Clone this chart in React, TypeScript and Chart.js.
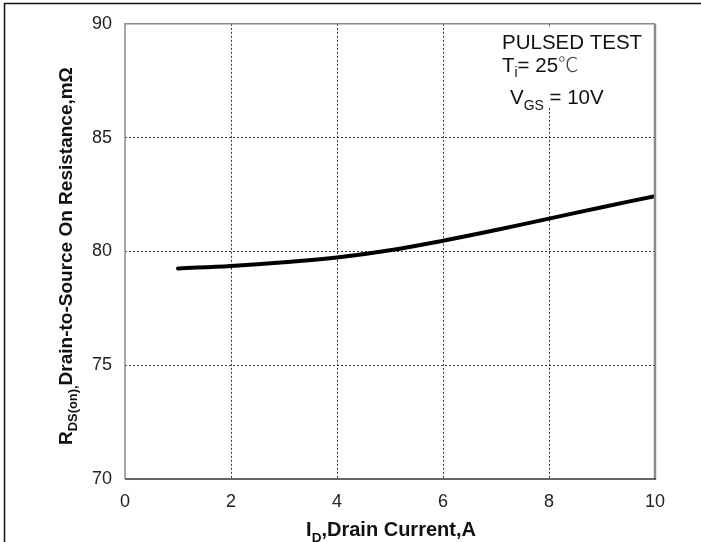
import React, { useEffect, useRef } from "react";
import { Chart, registerables } from "chart.js";

Chart.register(...registerables);

const currentA: number[] = [1, 2, 3, 4, 5, 6, 7, 8, 9, 10];
const resistanceMOhm: number[] = [79.25, 79.36, 79.52, 79.73, 80.05, 80.47, 80.94, 81.44, 81.94, 82.43];
const xTicks: number[] = [0, 2, 4, 6, 8, 10];
const yTicks: number[] = [70, 75, 80, 85, 90];

type Part = { t: string; sub?: boolean; light?: boolean };
const xTitle: Part[] = [{ t: "I" }, { t: "D", sub: true }, { t: ",Drain Current,A" }];
const yTitle: Part[] = [{ t: "R" }, { t: "DS(on)", sub: true }, { t: ",", sub: true }, { t: "Drain-to-Source On Resistance,mΩ" }];
const note1: Part[] = [{ t: "PULSED TEST" }];
const note2: Part[] = [{ t: "T" }, { t: "i", sub: true }, { t: "= 25" }, { t: "℃", light: true }];
const note3: Part[] = [{ t: "V" }, { t: "GS", sub: true }, { t: " = 10V" }];

const FONT = '"Liberation Sans", Arial, sans-serif';
const CJK = '"Noto Sans CJK SC", "Liberation Sans", sans-serif';

function fontStr(size: number, bold: boolean, light?: boolean) {
  if (light) return `300 ${size}px ${CJK}`;
  return `${bold ? "bold " : ""}${size}px ${FONT}`;
}

function richWidth(ctx: CanvasRenderingContext2D, parts: Part[], size: number, bold: boolean) {
  let w = 0;
  for (const p of parts) {
    ctx.font = fontStr(p.sub ? size * 0.68 : size, bold, p.light);
    w += ctx.measureText(p.t).width;
  }
  return w;
}

function drawRich(ctx: CanvasRenderingContext2D, x: number, y: number, parts: Part[], size: number, bold: boolean, color: string) {
  let cx = x;
  ctx.textAlign = "left";
  ctx.textBaseline = "alphabetic";
  for (const p of parts) {
    const s = p.sub ? size * 0.68 : size;
    ctx.font = fontStr(s, bold, p.light);
    ctx.fillStyle = p.light ? "#444" : color;
    ctx.fillText(p.t, cx, p.sub ? y + size * 0.28 : y);
    cx += ctx.measureText(p.t).width;
  }
}

const decorPlugin = {
  id: "decor",
  beforeDraw(chart: any) {
    const ctx: CanvasRenderingContext2D = chart.ctx;
    ctx.save();
    ctx.fillStyle = "#ffffff";
    ctx.fillRect(0, 0, chart.width, chart.height);
    ctx.strokeStyle = "#111";
    ctx.lineWidth = 1.5;
    ctx.beginPath();
    ctx.moveTo(4.5, chart.height);
    ctx.lineTo(4.5, 3.5);
    ctx.lineTo(chart.width, 3.5);
    ctx.stroke();
    ctx.restore();
  },
  afterDatasetsDraw(chart: any) {
    const ctx: CanvasRenderingContext2D = chart.ctx;
    const a = chart.chartArea;
    ctx.save();
    // annotation box (hides grid behind the text)
    ctx.fillStyle = "#ffffff";
    ctx.fillRect(498, 28, 152, 80);

    // frame
    ctx.strokeStyle = "#8a8a8a";
    ctx.lineWidth = 1.5;
    ctx.beginPath();
    ctx.moveTo(a.left, a.bottom);
    ctx.lineTo(a.left, a.top);
    ctx.lineTo(a.right, a.top);
    ctx.stroke();
    ctx.lineWidth = 2.5;
    ctx.beginPath();
    ctx.moveTo(a.right, a.top);
    ctx.lineTo(a.right, a.bottom);
    ctx.stroke();
    ctx.strokeStyle = "#333";
    ctx.lineWidth = 1.5;
    ctx.beginPath();
    ctx.moveTo(a.left, a.bottom);
    ctx.lineTo(a.right + 1, a.bottom);
    ctx.stroke();

    drawRich(ctx, 502, 49, note1, 20.5, false, "#111");
    drawRich(ctx, 502, 71.5, note2, 20.5, false, "#111");
    drawRich(ctx, 510, 104, note3, 20.5, false, "#111");

    // x title
    const xs = 20;
    const xw = richWidth(ctx, xTitle, xs, true);
    drawRich(ctx, (a.left + a.right) / 2 - xw / 2 + 1, 536, xTitle, xs, true, "#111");

    // y title
    ctx.save();
    ctx.translate(72, 445);
    ctx.rotate(-Math.PI / 2);
    drawRich(ctx, 0, 0, yTitle, 19, true, "#111");
    ctx.restore();
    ctx.restore();
  },
};

export default function App() {
  const ref = useRef<HTMLCanvasElement | null>(null);
  useEffect(() => {
    document.body.style.margin = "0";
    const canvas = ref.current;
    if (!canvas) return;
    const gridColor = (edge: number[]) => (c: any) =>
      edge.includes(c.tick?.value) ? "rgba(0,0,0,0)" : "#333";
    const chart = new Chart(canvas, {
      type: "line",
      data: {
        datasets: [
          {
            data: currentA.map((x, i) => ({ x, y: resistanceMOhm[i] })),
            borderColor: "#000",
            borderWidth: 4,
            pointRadius: 0,
            fill: false,
            tension: 0.4,
            borderCapStyle: "round",
          },
        ],
      },
      options: {
        animation: false,
        responsive: false,
        maintainAspectRatio: false,
        devicePixelRatio: 1,
        layout: { padding: { left: 0, right: 46, top: 21, bottom: 0 } },
        plugins: { legend: { display: false }, tooltip: { enabled: false }, title: { display: false } },
        scales: {
          x: {
            type: "linear",
            min: xTicks[0],
            max: xTicks[xTicks.length - 1],
            afterBuildTicks: (s: any) => {
              s.ticks = xTicks.map((v) => ({ value: v }));
            },
            ticks: { font: { family: FONT, size: 18 }, color: "#222", padding: 12, maxRotation: 0 },
            grid: { color: gridColor([0, 10]), lineWidth: 1, drawTicks: false },
            border: { display: false, dash: [2, 2] },
            afterFit: (s: any) => {
              s.height = 63;
            },
          },
          y: {
            type: "linear",
            min: yTicks[0],
            max: yTicks[yTicks.length - 1],
            afterBuildTicks: (s: any) => {
              s.ticks = yTicks.map((v) => ({ value: v }));
            },
            ticks: { font: { family: FONT, size: 18 }, color: "#222", padding: 13 },
            grid: { color: gridColor([70, 90]), lineWidth: 1, drawTicks: false },
            border: { display: false, dash: [2, 2] },
            afterFit: (s: any) => {
              s.width = 125;
            },
          },
        },
      } as any,
      plugins: [decorPlugin],
    });
    return () => chart.destroy();
  }, []);
  return (
    <div style={{ position: "absolute", left: 0, top: 0, width: 701, height: 542 }}>
      <canvas ref={ref} width={701} height={542} style={{ display: "block", width: 701, height: 542 }} />
    </div>
  );
}
